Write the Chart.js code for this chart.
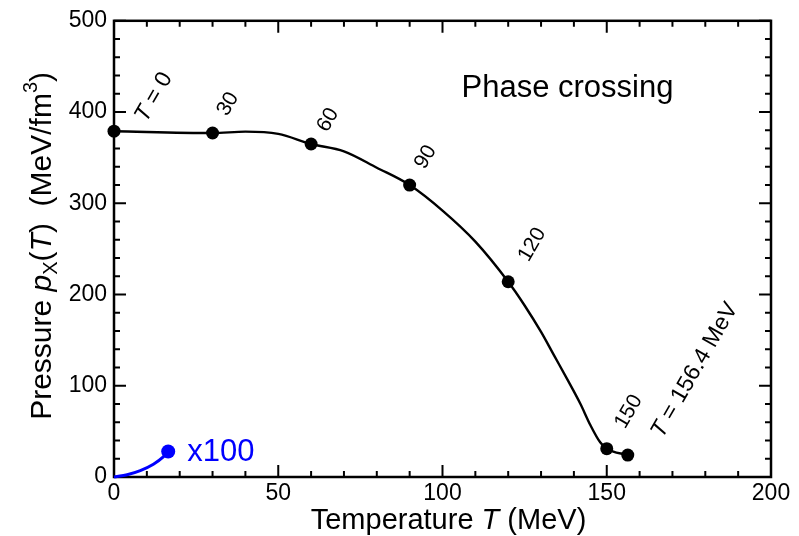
<!DOCTYPE html>
<html>
<head>
<meta charset="utf-8">
<script src="https://cdn.jsdelivr.net/npm/chart.js@4.4.0/dist/chart.umd.min.js"></script>
<style>
  html, body { margin: 0; padding: 0; background: #fff; }
  #wrap { width: 799px; height: 536px; }
</style>
</head>
<body>
<div id="wrap"><canvas id="pressureChart"></canvas></div>
<script>
// black curve p_X(T) (MeV, MeV/fm^3)
const curveT = [0, 30, 40, 50, 60, 70, 80, 90, 100, 110, 120, 125, 130, 134, 138, 142, 145, 148, 150, 156.4];
const curveP = [379, 377, 378.5, 376, 365, 357, 339, 320, 292, 258, 214, 188, 159, 133, 107, 80, 57, 38, 31, 24];

// marked temperatures on the curve
const markerT = [0, 30, 60, 90, 120, 150, 156.4];
const markerP = [379, 377, 365, 320, 214, 31, 24];
const markerLabels = ['T = 0', '30', '60', '90', '120', '150', 'T = 156.4 MeV'];

// blue curve, drawn x100
const lowT = [0, 4, 8, 12, 15, 16.5];
const lowP = [0, 2.5, 7, 14, 22, 28];

// axis ticks
const xTicks = [0, 50, 100, 150, 200];
const yTicks = [0, 100, 200, 300, 400, 500];

const FONT = "'Liberation Sans', Arial, Helvetica, sans-serif";
const BLUE = 'rgb(0,0,255)';

// where each rotated label sits relative to its dot (center, px)
const labelOffsets = [[40, -34], [15.5, -29], [17, -24], [16, -28], [24, -37], [22, -37], [67, -85]];

// draw text made of pieces (italic T, sub/superscripts)
function richParts(text) {
    // the "T = ..." labels are a bit bigger, with an italic T
    if (text.startsWith('T ')) {
        return [{ t: 'T', f: 'italic 23px ' + FONT, dy: 0 },
                { t: text.slice(1), f: '23px ' + FONT, dy: 0 }];
    }
    return [{ t: text, f: '21px ' + FONT, dy: 0 }];
}

function drawRich(ctx, parts, x, y, align) {
    let total = 0;
    parts.forEach(p => { ctx.font = p.f; p.w = ctx.measureText(p.t).width; total += p.w; });
    let cx = x;
    if (align === 'center') cx = x - total / 2;
    else if (align === 'right') cx = x - total;
    ctx.textAlign = 'left';
    parts.forEach(p => {
        ctx.font = p.f;
        ctx.fillText(p.t, cx, y + p.dy);
        cx += p.w;
    });
}

const framePlugin = {
    id: 'frame',
    beforeDatasetsDraw(chart) {
        const ctx = chart.ctx;
        const a = chart.chartArea;
        const xs = chart.scales.x, ys = chart.scales.y;
        ctx.save();
        ctx.strokeStyle = '#000';
        ctx.lineWidth = 2;
        // inward ticks, major and minor, on all four sides
        for (let v = 0; v <= 200; v += 10) {
            const px = xs.getPixelForValue(v);
            const len = v % 50 === 0 ? 12 : 6;
            ctx.beginPath();
            ctx.moveTo(px, a.bottom); ctx.lineTo(px, a.bottom - len);
            ctx.moveTo(px, a.top); ctx.lineTo(px, a.top + len);
            ctx.stroke();
        }
        for (let v = 0; v <= 500; v += 20) {
            const py = ys.getPixelForValue(v);
            const len = v % 100 === 0 ? 12 : 6;
            ctx.beginPath();
            ctx.moveTo(a.left, py); ctx.lineTo(a.left + len, py);
            ctx.moveTo(a.right, py); ctx.lineTo(a.right - len, py);
            ctx.stroke();
        }
        ctx.lineWidth = 2.5;
        ctx.strokeRect(a.left, a.top, a.right - a.left, a.bottom - a.top);
        ctx.restore();
    },
    afterDatasetsDraw(chart) {
        const ctx = chart.ctx;
        const xs = chart.scales.x, ys = chart.scales.y;
        ctx.save();
        ctx.fillStyle = '#000';
        ctx.textBaseline = 'middle';

        // rotated temperature labels next to the dots
        markerLabels.forEach((txt, i) => {
            const px = xs.getPixelForValue(markerT[i]) + labelOffsets[i][0];
            const py = ys.getPixelForValue(markerP[i]) + labelOffsets[i][1];
            ctx.save();
            ctx.translate(px, py);
            ctx.rotate(-Math.PI / 3);
            drawRich(ctx, richParts(txt), 0, 0, 'center');
            ctx.restore();
        });

        ctx.textBaseline = 'alphabetic';
        // panel title
        ctx.font = '31px ' + FONT;
        ctx.textAlign = 'left';
        ctx.fillText('Phase crossing', 461.5, 96.5);

        // x100 tag at the end of the blue curve
        const last = lowT.length - 1;
        ctx.fillStyle = BLUE;
        ctx.font = '31px ' + FONT;
        ctx.fillText('x100', xs.getPixelForValue(lowT[last]) + 19, ys.getPixelForValue(lowP[last]) + 9.5);
        ctx.restore();
    },
    afterDraw(chart) {
        const ctx = chart.ctx;
        const a = chart.chartArea;
        ctx.save();
        ctx.fillStyle = '#000';
        ctx.textBaseline = 'alphabetic';

        // x axis title
        const xs = 29;
        drawRich(ctx, [
            { t: 'Temperature ', f: xs + 'px ' + FONT, dy: 0 },
            { t: 'T', f: 'italic ' + xs + 'px ' + FONT, dy: 0 },
            { t: ' (MeV)', f: xs + 'px ' + FONT, dy: 0 }
        ], (a.left + a.right) / 2 + 6, 529, 'center');

        // y axis title, rotated
        const ys = 30;
        ctx.translate(51, (a.top + a.bottom) / 2 - 3);
        ctx.rotate(-Math.PI / 2);
        drawRich(ctx, [
            { t: 'Pressure ', f: ys + 'px ' + FONT, dy: 0 },
            { t: 'p', f: 'italic ' + ys + 'px ' + FONT, dy: 0 },
            { t: 'X', f: '20px ' + FONT, dy: 6 },
            { t: '(', f: ys + 'px ' + FONT, dy: 0 },
            { t: 'T', f: 'italic ' + ys + 'px ' + FONT, dy: 0 },
            { t: ')  (MeV/fm', f: ys + 'px ' + FONT, dy: 0 },
            { t: '3', f: '20px ' + FONT, dy: -14 },
            { t: ')', f: ys + 'px ' + FONT, dy: 0 }
        ], 0, 0, 'center');
        ctx.restore();
    }
};

const ctx = document.getElementById('pressureChart').getContext('2d');
new Chart(ctx, {
    type: 'line',
    data: {
        datasets: [
            {
                data: curveT.map((t, i) => ({ x: t, y: curveP[i] })),
                borderColor: '#000',
                borderWidth: 2.4,
                pointRadius: 0,
                cubicInterpolationMode: 'monotone'
            },
            {
                data: markerT.map((t, i) => ({ x: t, y: markerP[i] })),
                showLine: false,
                pointRadius: 6.5,
                pointBackgroundColor: '#000',
                pointBorderWidth: 0,
                clip: false
            },
            {
                data: lowT.map((t, i) => ({ x: t, y: lowP[i] })),
                borderColor: BLUE,
                borderWidth: 3,
                cubicInterpolationMode: 'monotone',
                pointRadius: c => (c.dataIndex === lowT.length - 1 ? 7 : 0),
                pointBackgroundColor: BLUE,
                pointBorderWidth: 0,
                clip: false
            }
        ]
    },
    options: {
        responsive: true,
        maintainAspectRatio: false,
        animation: false,
        events: [],
        layout: { padding: { top: 17, right: 28, left: 0, bottom: 0 } },
        plugins: { legend: { display: false }, tooltip: { enabled: false } },
        scales: {
            x: {
                type: 'linear',
                min: 0,
                max: 200,
                afterBuildTicks: s => { s.ticks = xTicks.map(v => ({ value: v })); },
                afterFit: s => { s.height = 59; },
                grid: { display: false, drawTicks: false },
                border: { display: false },
                ticks: { color: '#000', font: { family: FONT, size: 23 }, padding: 3, maxRotation: 0 }
            },
            y: {
                type: 'linear',
                min: 0,
                max: 500,
                afterBuildTicks: s => { s.ticks = yTicks.map(v => ({ value: v })); },
                afterFit: s => { s.width = 114; },
                grid: { display: false, drawTicks: false },
                border: { display: false },
                ticks: { color: '#000', font: { family: FONT, size: 23 }, padding: 7 }
            }
        }
    },
    plugins: [framePlugin]
});
</script>
</body>
</html>
